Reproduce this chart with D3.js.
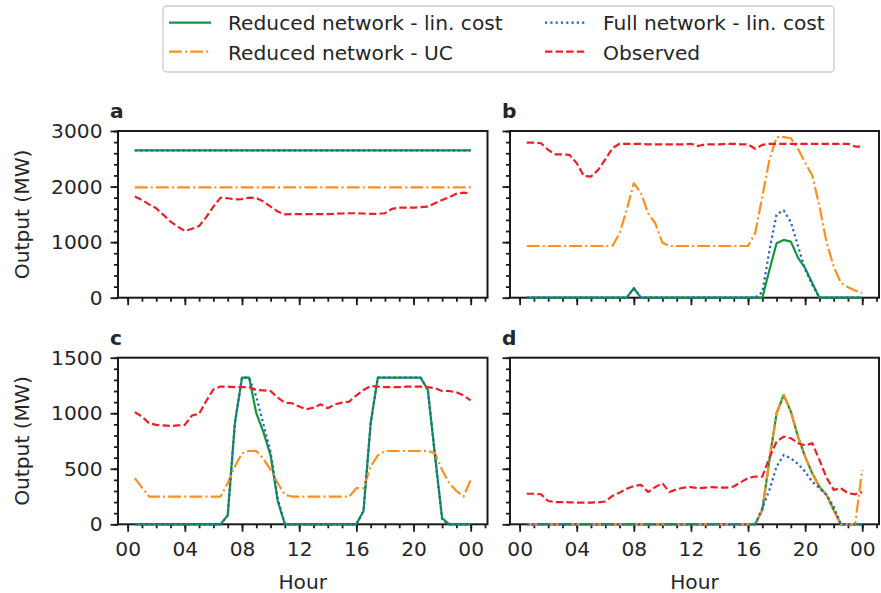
<!DOCTYPE html>
<html><head><meta charset="utf-8">
<script src="https://cdn.jsdelivr.net/npm/d3@7"></script>
<style>
body{margin:0;background:#fff}
svg{display:block}
text{font-family:"DejaVu Sans",sans-serif;fill:#262626}
</style>
</head><body>
<svg id="chart" width="881" height="593"></svg>
<script>
// ---------- data ----------
const hours = [0.5,1,1.5,2,2.5,3,3.5,4,4.5,5,5.5,6,6.5,7,7.5,8,8.5,9,9.5,10,10.5,11,11.5,12,
               12.5,13,13.5,14,14.5,15,15.5,16,16.5,17,17.5,18,18.5,19,19.5,20,20.5,21,21.5,22,22.5,23,23.5,24];
const xTickValues = [0,4,8,12,16,20,24];
const xTickLabels = ["00","04","08","12","16","20","00"];
const xMinorTicks = [0,1,2,3,4,5,6,7,8,9,10,11,12,13,14,15,16,17,18,19,20,21,22,23,24,25];
const topYTicks = [0,1000,2000,3000];
const topYMinor = [0,200,400,600,800,1000,1200,1400,1600,1800,2000,2200,2400,2600,2800,3000];
const bottomYTicks = [0,500,1000,1500];
const bottomYMinor = [0,100,200,300,400,500,600,700,800,900,1000,1100,1200,1300,1400,1500];
const seriesNames = ["Reduced network - lin. cost","Reduced network - UC","Full network - lin. cost","Observed"];
const panelLetters = ["a","b","c","d"];

// panel a
const aReducedLin = [2650,2650,2650,2650,2650,2650,2650,2650,2650,2650,2650,2650,2650,2650,2650,2650,2650,2650,2650,2650,2650,2650,2650,2650,
                     2650,2650,2650,2650,2650,2650,2650,2650,2650,2650,2650,2650,2650,2650,2650,2650,2650,2650,2650,2650,2650,2650,2650,2650];
const aReducedUC  = [1985,1985,1985,1985,1985,1985,1985,1985,1985,1985,1985,1985,1985,1985,1985,1985,1985,1985,1985,1985,1985,1985,1985,1985,
                     1985,1985,1985,1985,1985,1985,1985,1985,1985,1985,1985,1985,1985,1985,1985,1985,1985,1985,1985,1985,1985,1985,1985,1985];
const aFullLin    = [2650,2650,2650,2650,2650,2650,2650,2650,2650,2650,2650,2650,2650,2650,2650,2650,2650,2650,2650,2650,2650,2650,2650,2650,
                     2650,2650,2650,2650,2650,2650,2650,2650,2650,2650,2650,2650,2650,2650,2650,2650,2650,2650,2650,2650,2650,2650,2650,2650];
const aObserved   = [1820,1760,1680,1610,1490,1370,1280,1200,1240,1290,1450,1640,1800,1790,1770,1775,1800,1795,1730,1640,1550,1500,1505,1505,
                     1505,1505,1505,1505,1510,1515,1520,1520,1515,1510,1510,1520,1600,1620,1620,1620,1630,1640,1700,1760,1810,1870,1890,1880];
// panel b
const bReducedLin = [0,0,0,0,0,0,0,0,0,0,0,0,0,0,0,170,0,0,0,0,0,0,0,0,
                     0,0,0,0,0,0,0,0,0,0,500,980,1040,1010,720,530,265,0,0,0,0,0,0,0];
const bReducedUC  = [930,930,930,930,930,930,930,930,930,930,930,930,930,1160,1580,2060,1880,1520,1340,990,930,930,930,930,
                     930,930,930,930,930,930,930,930,1160,1820,2480,2890,2890,2870,2680,2430,2200,1650,1000,560,270,190,130,80];
const bFullLin    = [0,0,0,0,0,0,0,0,0,0,0,0,0,0,0,170,0,0,0,0,0,0,0,0,
                     0,0,0,0,0,0,0,0,0,100,850,1500,1570,1360,930,510,230,0,0,0,0,0,0,0];
const bObserved   = [2790,2790,2780,2660,2580,2580,2570,2420,2190,2180,2300,2490,2690,2770,2770,2770,2770,2760,2760,2760,2760,2760,2760,2770,
                     2730,2760,2760,2760,2770,2770,2760,2760,2680,2750,2770,2770,2770,2770,2770,2770,2770,2770,2770,2770,2770,2770,2720,2720];
// panel c
const cReducedLin = [0,0,0,0,0,0,0,0,0,0,0,0,0,80,910,1320,1320,1000,830,620,210,0,0,0,
                     0,0,0,0,0,0,0,0,120,910,1320,1320,1320,1320,1320,1320,1320,1210,620,55,0,0,0,0];
const cReducedUC  = [415,330,250,250,250,250,250,250,250,250,250,250,250,370,520,640,660,660,590,490,370,265,250,250,
                     250,250,250,250,250,250,250,325,325,520,620,660,660,660,660,660,660,660,640,490,370,300,250,400];
const cFullLin    = [0,0,0,0,0,0,0,0,0,0,0,0,0,80,910,1320,1320,1150,900,650,230,0,0,0,
                     0,0,0,0,0,0,0,0,120,910,1320,1320,1320,1320,1320,1320,1320,1210,620,40,0,0,0,0];
const cObserved   = [1010,970,910,895,890,885,890,895,980,995,1110,1215,1240,1240,1235,1235,1235,1210,1205,1200,1140,1095,1090,1060,
                     1035,1050,1080,1045,1080,1095,1105,1160,1210,1245,1240,1235,1235,1235,1240,1240,1240,1235,1225,1200,1200,1188,1160,1115];
// panel d
const dReducedLin = [0,0,0,0,0,0,0,0,0,0,0,0,0,0,0,0,0,0,0,0,0,0,0,0,
                     0,0,0,0,0,0,0,0,0,129,579,1000,1164,1015,789,609,459,339,264,129,0,0,0,0];
const dReducedUC  = [0,0,0,0,0,0,0,0,0,0,0,0,0,0,0,0,0,0,0,0,0,0,0,0,
                     0,0,0,0,0,0,0,0,0,129,579,1000,1164,1015,789,609,459,339,264,129,0,0,0,490];
const dFullLin    = [0,0,0,0,0,0,0,0,0,0,0,0,0,0,0,0,0,0,0,0,0,0,0,0,
                     0,0,0,0,0,0,0,0,0,144,309,519,624,594,543,474,384,324,264,159,0,0,0,0];
const dObserved   = [275,275,270,210,200,200,198,195,195,195,198,205,255,285,320,345,355,290,335,370,290,315,330,335,
                     325,330,335,330,330,340,380,415,430,430,600,745,790,775,730,710,730,580,420,310,325,280,270,290];

// ---------- styles ----------
const seriesStyle = [
  {color:"#14973c", dash:null},
  {color:"#fb8f1f", dash:"12.8,3.2,2,3.2"},
  {color:"#1f62c2", dash:"2.2,3.1"},
  {color:"#ec1f27", dash:"7.4,3.2"}
];

const panels = [
  {letter:panelLetters[0], series:[aReducedLin,aReducedUC,aFullLin,aObserved], row:0, col:0},
  {letter:panelLetters[1], series:[bReducedLin,bReducedUC,bFullLin,bObserved], row:0, col:1},
  {letter:panelLetters[2], series:[cReducedLin,cReducedUC,cFullLin,cObserved], row:1, col:0},
  {letter:panelLetters[3], series:[dReducedLin,dReducedUC,dFullLin,dObserved], row:1, col:1}
];

const colX = [[118,487.5],[510,879]];
const rowY = [[131,297.7],[357.7,524.3]];
const rowDomain = [[0,3000],[0,1500]];
const rowTicks = [topYTicks, bottomYTicks];
const rowMinor = [topYMinor, bottomYMinor];

const svg = d3.select("#chart");
const FS = 20.2;
const axisColor = "#1a1a1a";

panels.forEach(p => {
  const [x0,x1] = colX[p.col];
  const [y0,y1] = rowY[p.row];
  const x = d3.scaleLinear().domain([-0.675,25.175]).range([x0,x1]);
  const y = d3.scaleLinear().domain(rowDomain[p.row]).range([y1,y0]);
  const g = svg.append("g");

  // axes ticks
  const xMin = g.append("g").attr("transform",`translate(0,${y1})`)
    .call(d3.axisBottom(x).tickValues(xMinorTicks).tickSize(4).tickFormat(""));
  const xMaj = g.append("g").attr("transform",`translate(0,${y1})`)
    .call(d3.axisBottom(x).tickValues(xTickValues).tickSize(7.5).tickPadding(10)
      .tickFormat((d,i)=> p.row===1 ? xTickLabels[i] : ""));
  const yMin = g.append("g").attr("transform",`translate(${x0},0)`)
    .call(d3.axisLeft(y).tickValues(rowMinor[p.row]).tickSize(4).tickFormat(""));
  const yMaj = g.append("g").attr("transform",`translate(${x0},0)`)
    .call(d3.axisLeft(y).tickValues(rowTicks[p.row]).tickSize(7.5).tickPadding(8)
      .tickFormat(d => p.col===0 ? String(d) : ""));
  [xMin,xMaj,yMin,yMaj].forEach(a => {
    a.select(".domain").remove();
    a.selectAll("line").attr("stroke",axisColor).attr("stroke-width",1.8);
    a.selectAll("text").attr("font-size",FS).attr("font-family","DejaVu Sans").attr("fill","#262626");
  });

  // box spines
  g.append("rect").attr("x",x0).attr("y",y0).attr("width",x1-x0).attr("height",y1-y0)
    .attr("fill","none").attr("stroke",axisColor).attr("stroke-width",2);

  // lines (drawn above spines)
  const line = d3.line().x((d,i)=>x(hours[i])).y(d=>y(d));
  p.series.forEach((s,k) => {
    const st = seriesStyle[k];
    g.append("path").datum(s).attr("d", line)
      .attr("fill","none").attr("stroke",st.color).attr("stroke-width",2.2)
      .attr("stroke-linejoin","round")
      .attr("stroke-dasharray", st.dash);
  });

  // panel letter
  g.append("text").attr("x",x0-8).attr("y",y0-13).attr("font-size",FS).attr("font-weight","bold")
    .text(p.letter);

  if (p.col===0) {
    g.append("text").attr("transform",`translate(29,${(y0+y1)/2}) rotate(-90)`)
      .attr("text-anchor","middle").attr("font-size",FS).text("Output (MW)");
  }
  if (p.row===1) {
    g.append("text").attr("x",(x0+x1)/2).attr("y",589).attr("text-anchor","middle")
      .attr("font-size",FS).text("Hour");
  }
});

// legend
const lg = svg.append("g");
lg.append("rect").attr("x",163).attr("y",6).attr("width",671).attr("height",66).attr("rx",4)
  .attr("fill","#fff").attr("stroke","#cccccc").attr("stroke-width",1.3);
const legPos = [
  {hx:169, tx:228, cy:22.7, by:30},
  {hx:169, tx:228, cy:51.7, by:59.5},
  {hx:545, tx:603, cy:22.7, by:30},
  {hx:545, tx:603, cy:51.7, by:59.5}
];
seriesNames.forEach((name,k) => {
  const lp = legPos[k], st = seriesStyle[k];
  lg.append("line").attr("x1",lp.hx).attr("x2",lp.hx+42).attr("y1",lp.cy).attr("y2",lp.cy)
    .attr("stroke",st.color).attr("stroke-width",2.2).attr("stroke-dasharray",st.dash);
  lg.append("text").attr("x",lp.tx).attr("y",lp.by).attr("font-size",FS).text(name);
});
</script>
</body></html>
